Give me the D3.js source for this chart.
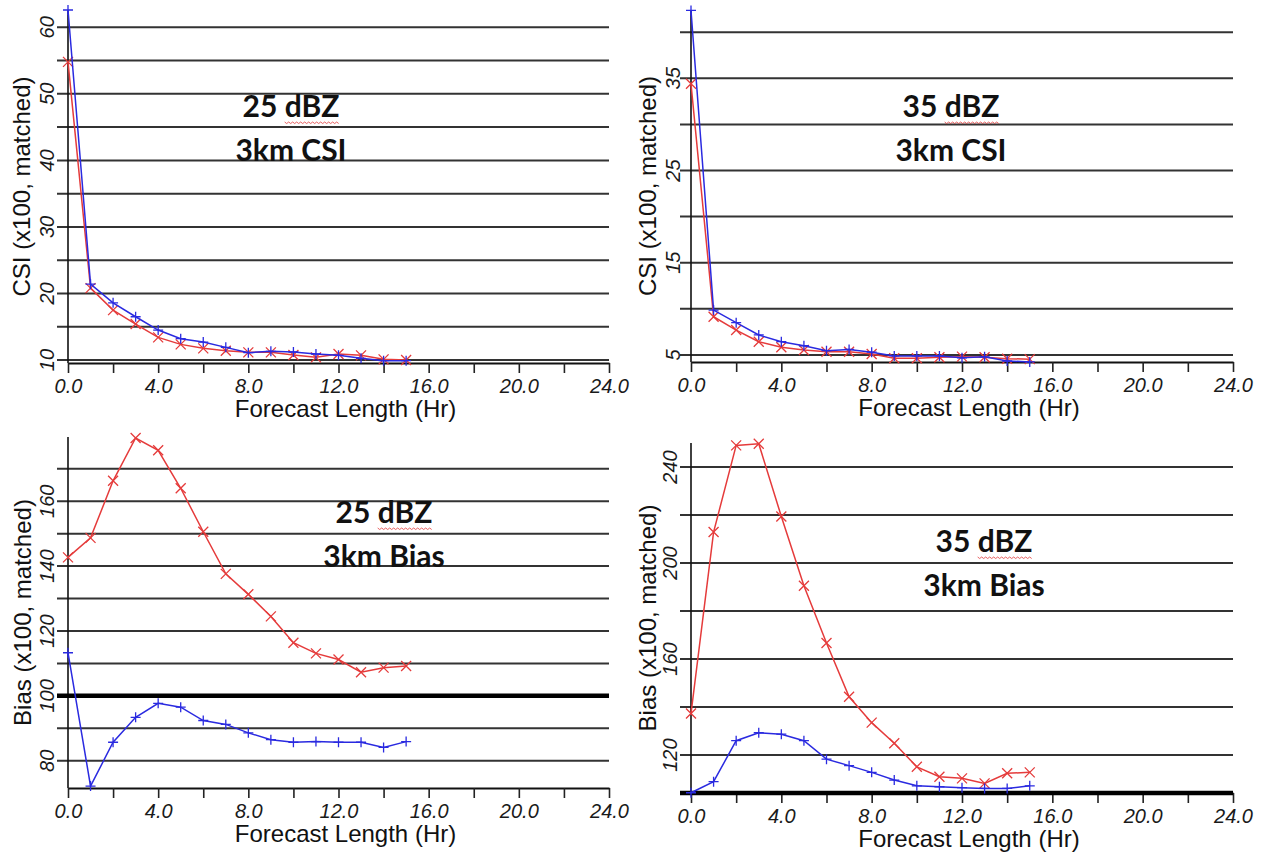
<!DOCTYPE html>
<html>
<head>
<meta charset="utf-8">
<script src="https://cdn.jsdelivr.net/npm/d3@7"></script>
<style>
  body { margin: 0; background: #fff; }
  svg { display: block; }
  .tick-lab { font-family: "Liberation Sans", Arial, sans-serif; font-style: italic; font-size: 20px; fill: #1a1a1a; }
  .ax-title { font-family: "Liberation Sans", Arial, sans-serif; font-size: 24px; fill: #111; }
  .note { font-family: Lato, "Open Sans", sans-serif; font-weight: 700; font-size: 30px; fill: #111; }
</style>
</head>
<body>
<svg width="1265" height="853"></svg>
<script>
// forecast hours
var hours = [0, 1, 2, 3, 4, 5, 6, 7, 8, 9, 10, 11, 12, 13, 14, 15];

// 25 dBZ CSI
var csi25Blue = [62.6, 21.4, 18.6, 16.5, 14.5, 13.2, 12.7, 11.9, 11.1, 11.3, 11.2, 10.9, 10.7, 10.25, 9.9, 9.9];
var csi25Red  = [54.8, 20.8, 17.5, 15.4, 13.4, 12.35, 11.75, 11.4, 11.15, 11.15, 10.75, 10.4, 10.9, 10.7, 10.1, 10.0];

// 35 dBZ CSI
var csi35Blue = [42.35, 9.87, 8.5, 7.17, 6.44, 6.0, 5.47, 5.6, 5.3, 4.9, 4.9, 4.9, 4.7, 4.8, 4.35, 4.25];
var csi35Red  = [34.4, 9.15, 7.7, 6.44, 5.83, 5.54, 5.36, 5.36, 5.1, 4.64, 4.64, 4.75, 4.82, 4.75, 4.6, 4.55];

// 25 dBZ bias
var bias25Red  = [142.7, 148.7, 166.3, 179.5, 175.7, 164.0, 150.6, 137.6, 131.3, 124.5, 116.4, 113.1, 111.2, 107.3, 108.7, 109.2];
var bias25Blue = [113.3, 72.2, 85.7, 93.4, 97.7, 96.5, 92.4, 91.2, 88.6, 86.5, 85.7, 85.9, 85.7, 85.7, 84.1, 85.9];

// 35 dBZ bias
var bias35Red  = [137.3, 212.9, 249.0, 249.7, 219.4, 190.5, 166.7, 144.3, 133.5, 124.9, 115.1, 111.0, 110.3, 108.2, 112.4, 112.8];
var bias35Blue = [104.3, 108.9, 126.0, 129.3, 128.7, 126.0, 118.3, 115.6, 112.8, 109.6, 107.2, 106.8, 106.4, 106.1, 106.1, 107.2];

// axis ticks
var xTicks = [0, 2, 4, 6, 8, 10, 12, 14, 16, 18, 20, 22, 24];
var csi25Grid = [10, 15, 20, 25, 30, 35, 40, 45, 50, 55, 60];
var csi25Labels = [10, 20, 30, 40, 50, 60];
var csi35Grid = [5, 10, 15, 20, 25, 30, 35, 40];
var csi35Labels = [5, 15, 25, 35];
var bias25Grid = [80, 90, 100, 110, 120, 130, 140, 150, 160, 170];
var bias25Labels = [80, 100, 120, 140, 160];
var bias35Grid = [120, 140, 160, 180, 200, 220, 240];
var bias35Labels = [120, 160, 200, 240];

var RED = "#e53b3b", BLUE = "#2a2ae0";

var panels = [
  { xr: [68, 609], yr: [363, 10], dom: [9.55, 62.6], grid: csi25Grid, labels: csi25Labels,
    ytitle: "CSI (x100, matched)", titleX: 22, labX: 47, red: csi25Red, blue: csi25Blue,
    note: ["25 dBZ", "3km CSI"], noteX: 291, noteY: 117, ref: null },
  { xr: [691, 1233], yr: [362, 10], dom: [4.24, 42.4], grid: csi35Grid, labels: csi35Labels,
    ytitle: "CSI (x100, matched)", titleX: 648, labX: 673, red: csi35Red, blue: csi35Blue,
    note: ["35 dBZ", "3km CSI"], noteX: 951, noteY: 117, ref: null },
  { xr: [68, 609], yr: [788, 437], dom: [71.6, 179.8], grid: bias25Grid, labels: bias25Labels,
    ytitle: "Bias (x100, matched)", titleX: 23, labX: 47, red: bias25Red, blue: bias25Blue,
    note: ["25 dBZ", "3km Bias"], noteX: 384, noteY: 523, ref: 100 },
  { xr: [691, 1233], yr: [793, 443], dom: [104.2, 250], grid: bias35Grid, labels: bias35Labels,
    ytitle: "Bias (x100, matched)", titleX: 648, labX: 670, red: bias35Red, blue: bias35Blue,
    note: ["35 dBZ", "3km Bias"], noteX: 984, noteY: 552, ref: 100 }
];

var svg = d3.select("svg");

panels.forEach(function(p) {
  var x = d3.scaleLinear().domain([0, 24]).range(p.xr);
  var y = d3.scaleLinear().domain(p.dom).range(p.yr);
  var g = svg.append("g");
  var base = p.yr[0];

  // horizontal grid lines, reaching a bit left of the y axis
  g.selectAll(".grid")
    .data(p.grid)
    .enter().append("line")
      .attr("x1", p.xr[0] - 11)
      .attr("x2", p.xr[1])
      .attr("y1", function(d) { return y(d); })
      .attr("y2", function(d) { return y(d); })
      .attr("stroke", "#333")
      .attr("stroke-width", 2);

  // y tick labels, rotated
  g.selectAll(".ylab")
    .data(p.labels)
    .enter().append("text")
      .attr("class", "tick-lab")
      .attr("text-anchor", "middle")
      .attr("dy", "0.35em")
      .attr("transform", function(d) { return "translate(" + p.labX + "," + y(d) + ") rotate(-90)"; })
      .text(function(d) { return d; });

  // y axis line
  g.append("line")
    .attr("x1", p.xr[0]).attr("x2", p.xr[0])
    .attr("y1", p.yr[1]).attr("y2", base)
    .attr("stroke", "#111").attr("stroke-width", 1.6);

  // x axis
  var xAxis = d3.axisBottom(x)
    .tickValues(xTicks)
    .tickSize(10)
    .tickSizeOuter(0)
    .tickPadding(6)
    .tickFormat(function(d) { return d % 4 === 0 ? d3.format(".1f")(d) : ""; });

  var ax = g.append("g")
    .attr("transform", "translate(0," + base + ")")
    .call(xAxis);
  ax.select(".domain").attr("stroke", "#111").attr("stroke-width", 1.8);
  ax.selectAll(".tick line").attr("stroke", "#222").attr("stroke-width", 1.6);
  ax.selectAll(".tick text").attr("class", "tick-lab").attr("font-size", null).attr("font-family", null);

  // reference line at 100 (clamped to axis bottom)
  if (p.ref !== null) {
    var ry = y(Math.max(p.ref, p.dom[0]));
    g.append("line")
      .attr("x1", p.xr[0] - 11).attr("x2", p.xr[1])
      .attr("y1", ry).attr("y2", ry)
      .attr("stroke", "#000").attr("stroke-width", 4.5);
  }

  // axis titles
  g.append("text")
    .attr("class", "ax-title")
    .attr("text-anchor", "middle")
    .attr("x", (p.xr[0] + p.xr[1]) / 2 + 7)
    .attr("y", base + 54)
    .text("Forecast Length (Hr)");

  g.append("text")
    .attr("class", "ax-title")
    .attr("text-anchor", "middle")
    .attr("dy", "0.35em")
    .attr("transform", "translate(" + p.titleX + "," + (p.yr[0] + p.yr[1]) / 2 + ") rotate(-90)")
    .text(p.ytitle);

  // series
  var line = d3.line()
    .x(function(d, i) { return x(hours[i]); })
    .y(function(d) { return y(d); });

  [[p.red, RED, "x"], [p.blue, BLUE, "+"]].forEach(function(s) {
    g.append("path")
      .datum(s[0])
      .attr("fill", "none")
      .attr("stroke", s[1])
      .attr("stroke-width", 1.5)
      .attr("d", line);

    var m = 5;
    g.selectAll(null)
      .data(s[0])
      .enter().append("path")
        .attr("fill", "none")
        .attr("stroke", s[1])
        .attr("stroke-width", 1.3)
        .attr("d", function(d, i) {
          var cx = x(hours[i]), cy = y(d);
          if (s[2] === "x") {
            return "M" + (cx - m) + "," + (cy - m) + "L" + (cx + m) + "," + (cy + m) +
                   "M" + (cx - m) + "," + (cy + m) + "L" + (cx + m) + "," + (cy - m);
          }
          return "M" + (cx - m) + "," + cy + "L" + (cx + m) + "," + cy +
                 "M" + cx + "," + (cy - m) + "L" + cx + "," + (cy + m);
        });
  });

  // panel annotation
  p.note.forEach(function(t, i) {
    var txt = g.append("text")
      .attr("class", "note")
      .attr("text-anchor", "middle")
      .attr("x", p.noteX)
      .attr("y", p.noteY + i * 44)
      .text(t);

    // spell-check squiggle under "dBZ"
    if (i === 0) {
      var n = txt.node();
      var x0 = n.getStartPositionOfChar(3).x;
      var x1 = n.getEndPositionOfChar(5).x;
      var yy = p.noteY + 5;
      var pts = [];
      for (var k = 0; x0 + k * 2 <= x1; k++) {
        pts.push([x0 + k * 2, yy + (k % 2 ? 1.5 : 0)]);
      }
      g.append("path")
        .attr("d", d3.line()(pts))
        .attr("fill", "none")
        .attr("stroke", "#e23a3a")
        .attr("stroke-width", 0.8);
    }
  });
});
</script>
</body>
</html>
